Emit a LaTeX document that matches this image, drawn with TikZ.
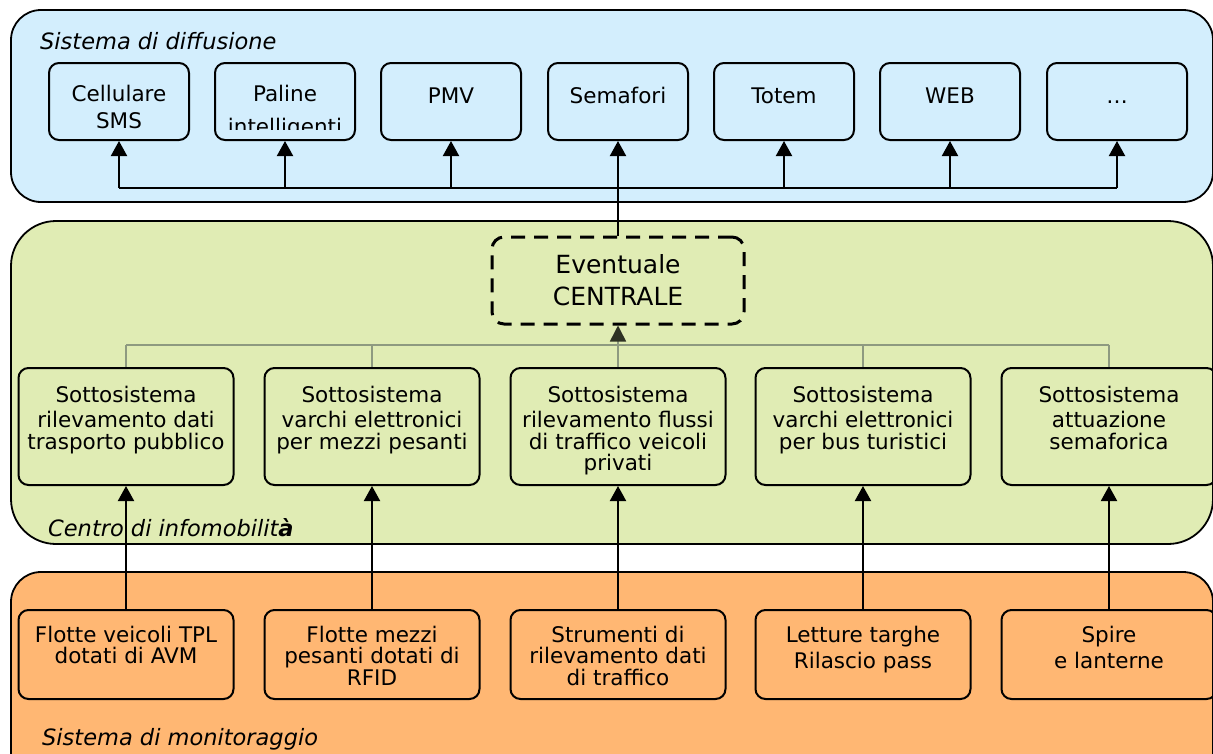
\documentclass[tikz,border=0pt]{standalone}
\usepackage{fontspec}
\setmainfont{DejaVu Sans}
\usetikzlibrary{arrows.meta}

\definecolor{diffblue}{HTML}{D3EEFD}
\definecolor{centgreen}{HTML}{E0ECB4}
\definecolor{monorange}{HTML}{FFB773}
\definecolor{feedgray}{HTML}{8E9A80}
\definecolor{feedtip}{HTML}{2E3224}

% box contents: fixed size, text hanging from the top
\newcommand\boxfont{\fontsize{21.5}{21.5}\selectfont}
\newcommand\toptext[2][38pt]{\parbox[c][77pt][t]{140pt}{\centering\rule{0pt}{#1}#2\par}}
\newcommand\subtext[1]{\parbox[c][117pt][t]{215pt}{\centering\rule{0pt}{34pt}#1\par}}
\newcommand\montext[1]{\parbox[c][89pt][t]{215pt}{\centering\rule{0pt}{32pt}#1\par}}

\tikzset{
  panel/.style={draw=black, line width=1.8pt},
  box/.style={draw=black, line width=2pt, rounded corners=10pt, inner sep=0pt, font=\boxfont},
  plaintext/.style={inner sep=0pt, font=\boxfont},
  paneltitle/.style={anchor=base west, inner sep=0pt, font=\fontsize{22.5}{27}\selectfont\itshape},
  link/.style={draw=black, line width=2pt},
  uptip/.style={-{Triangle[width=16pt,length=15pt]}},
  feed/.style={draw=feedgray, line width=1.6pt},
  feedarrow/.style={-{Triangle[width=16pt,length=16pt,color=feedtip]}},
  centralbox/.style={draw=black, line width=3pt, dash pattern=on 14pt off 9pt,
    rounded corners=12pt, minimum width=252pt, minimum height=87pt, inner sep=0pt,
    align=center, font=\fontsize{25}{32}\selectfont},
}

\begin{document}
\begin{tikzpicture}[x=1pt, y=-1pt]
\useasboundingbox (0,0) rectangle (1213,753);
\clip (0,0) rectangle (1213,753);

% panels
\draw[panel, fill=diffblue, rounded corners=30pt] (11,10) rectangle (1213,202);
\draw[panel, fill=centgreen, rounded corners=45pt] (11,221) rectangle (1213,544);
\draw[panel, fill=monorange, rounded corners=30pt] (11,572) rectangle (1213,800);

\node[paneltitle] (ttop) at (40,49) {Sistema di diffusione};
\node[paneltitle] (tmid) at (48,536) {Centro di infomobilit\textbf{à}};
\node[paneltitle] (tbot) at (42,745) {Sistema di monitoraggio};

% distribution channels
\node[box] (t1) at (119,101.5) {\toptext{Cellulare\\[6pt]SMS}};
\node[box] (t2) at (285,101.5) {\toptext{}};
\begin{scope}
  \clip (215,63) rectangle (355,129);
  \node[plaintext] (t2text) at (t2.center) {\toptext{Paline\\[12pt]intelligenti}};
\end{scope}
\node[box] (t3) at (451,101.5) {\toptext[40pt]{PMV}};
\node[box] (t4) at (618,101.5) {\toptext[40pt]{Semafori}};
\node[box] (t5) at (784,101.5) {\toptext[40pt]{Totem}};
\node[box] (t6) at (950,101.5) {\toptext[40pt]{WEB}};
\node[box] (t7) at (1117,101.5) {\toptext[40pt]{\dots}};

% optional central unit
\node[centralbox] (central) at (618,280.5) {Eventuale\\CENTRALE};

% subsystems
\node[box] (s1) at (126,426.5) {\subtext{Sottosistema\\[4pt]rilevamento dati\\trasporto pubblico}};
\node[box] (s2) at (372,426.5) {\subtext{Sottosistema\\[4pt]varchi elettronici\\per mezzi pesanti}};
\node[box] (s3) at (618,426.5) {\subtext{Sottosistema\\[4pt]rilevamento flussi\\di traffico veicoli\\privati}};
\node[box] (s4) at (863,426.5) {\subtext{Sottosistema\\[4pt]varchi elettronici\\per bus turistici}};
\node[box] (s5) at (1109,426.5) {\subtext{Sottosistema\\[4pt]attuazione\\semaforica}};

% monitoring sources
\node[box] (m1) at (126,654.5) {\montext{Flotte veicoli TPL\\dotati di AVM}};
\node[box] (m2) at (372,654.5) {\montext{Flotte mezzi\\pesanti dotati di\\RFID}};
\node[box] (m3) at (618,654.5) {\montext{Strumenti di\\rilevamento dati\\di traffico}};
\node[box] (m4) at (863,654.5) {\montext{Letture targhe\\[5pt]Rilascio pass}};
\node[box] (m5) at (1109,654.5) {\montext{Spire\\[5pt]e lanterne}};

% central unit -> distribution channels
\coordinate (bus) at (618,188);
\draw[link] (central.north) -- (bus);
\draw[link] (bus -| t1.south) -- (bus -| t7.south);
\foreach \n in {t1,t2,t3,t4,t5,t6,t7}
  \draw[link, uptip] (bus -| \n.south) -- (\n.south);

% subsystems -> central unit
\coordinate (fb) at (618,345);
\draw[feed] (fb -| s1.north) -- (fb -| s5.north);
\foreach \n in {s1,s2,s4,s5}
  \draw[feed] (\n.north) -- (fb -| \n.north);
\draw[feed, feedarrow] (s3.north) -- (central.south);

% sources -> subsystems
\foreach \i in {1,...,5}
  \draw[link, uptip] (m\i.north) -- (s\i.south);
\end{tikzpicture}
\end{document}
